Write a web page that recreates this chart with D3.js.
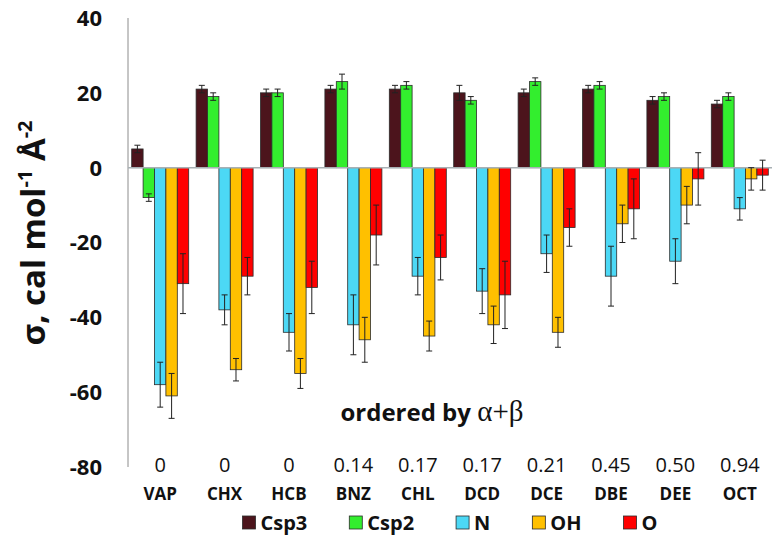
<!DOCTYPE html>
<html>
<head>
<meta charset="utf-8">
<script src="https://cdn.jsdelivr.net/npm/d3@7"></script>
<style>
  body { margin: 0; background: #fff; }
  svg { display: block; font-family: "Open Sans", sans-serif; }
</style>
</head>
<body>
<svg id="chart" width="780" height="545"></svg>
<script>
// solvents, ordered by alpha+beta
var solvents = ["VAP", "CHX", "HCB", "BNZ", "CHL", "DCD", "DCE", "DBE", "DEE", "OCT"];
var alphaBeta = ["0", "0", "0", "0.14", "0.17", "0.17", "0.21", "0.45", "0.50", "0.94"];
var seriesNames = ["Csp3", "Csp2", "N", "OH", "O"];
var seriesColors = ["#4c141c", "#33ee2e", "#4cd8f5", "#ffc000", "#ff0000"];

// sigma values per series (one per solvent)
var csp3 = [5, 21, 20, 21, 21, 20, 20, 21, 18, 17];
var csp2 = [-8, 19, 20, 23, 22, 18, 23, 22, 19, 19];
var nVals = [-58, -38, -44, -42, -29, -33, -23, -29, -25, -11];
var ohVals = [-61, -54, -55, -46, -45, -42, -44, -15, -10, -3];
var oVals = [-31, -29, -32, -18, -24, -34, -16, -11, -3, -2];

// error bar half-widths
var csp3Err = [1, 1, 1, 1, 1, 2, 1, 1, 1, 1];
var csp2Err = [1, 1, 1, 2, 1, 1, 1, 1, 1, 1];
var nErr = [6, 4, 5, 8, 5, 6, 5, 8, 6, 3];
var ohErr = [6, 3, 4, 6, 4, 5, 4, 5, 5, 3];
var oErr = [8, 5, 7, 8, 6, 9, 5, 8, 7, 4];

var yTicks = [40, 20, 0, -20, -40, -60, -80];

var values = [csp3, csp2, nVals, ohVals, oVals];
var errors = [csp3Err, csp2Err, nErr, ohErr, oErr];

var svg = d3.select("#chart");
var plot = {left: 128, right: 772, top: 18, bottom: 467};

var x = d3.scaleBand()
    .domain(solvents)
    .range([plot.left, plot.right])
    .paddingInner(0.115)
    .paddingOuter(0.0575);

var xSub = d3.scaleBand()
    .domain(seriesNames)
    .range([0, x.bandwidth()]);

var y = d3.scaleLinear()
    .domain([-80, 40])
    .range([plot.bottom, plot.top]);

// flatten to one record per bar
var bars = [];
solvents.forEach(function(s, i) {
    seriesNames.forEach(function(name, k) {
        bars.push({solvent: s, series: name, idx: k, value: values[k][i], err: errors[k][i]});
    });
});

// y axis line
svg.append("line")
    .attr("x1", plot.left).attr("x2", plot.left)
    .attr("y1", y(40)).attr("y2", y(-80))
    .attr("stroke", "#8c8c8c")
    .attr("stroke-width", 1);

// y tick labels
svg.append("g")
    .selectAll("text")
    .data(yTicks)
    .enter().append("text")
    .attr("x", 102)
    .attr("y", d => y(d))
    .attr("dy", "0.36em")
    .attr("text-anchor", "end")
    .attr("font-weight", "bold")
    .attr("font-size", 22)
    .attr("fill", "#111")
    .text(d => d);

// bars
svg.append("g")
    .selectAll("rect")
    .data(bars)
    .enter().append("rect")
    .attr("x", d => x(d.solvent) + xSub(d.series))
    .attr("y", d => y(Math.max(0, d.value)))
    .attr("width", xSub.bandwidth())
    .attr("height", d => Math.abs(y(d.value) - y(0)))
    .attr("fill", d => seriesColors[d.idx])
    .attr("stroke", "#2b2b2b")
    .attr("stroke-width", 0.8);

// zero line
svg.append("line")
    .attr("x1", plot.left).attr("x2", plot.right)
    .attr("y1", y(0)).attr("y2", y(0))
    .attr("stroke", "#a8b0b4")
    .attr("stroke-width", 1.5);

// error bars
var eb = svg.append("g")
    .attr("stroke", "#222")
    .attr("stroke-width", 1)
    .selectAll("g")
    .data(bars)
    .enter().append("g")
    .attr("transform", d => "translate(" + (x(d.solvent) + xSub(d.series) + xSub.bandwidth() / 2) + ",0)");

eb.append("line")
    .attr("y1", d => y(d.value + d.err))
    .attr("y2", d => y(d.value - d.err));
eb.append("line")
    .attr("x1", -3).attr("x2", 3)
    .attr("y1", d => y(d.value + d.err))
    .attr("y2", d => y(d.value + d.err));
eb.append("line")
    .attr("x1", -3).attr("x2", 3)
    .attr("y1", d => y(d.value - d.err))
    .attr("y2", d => y(d.value - d.err));

// alpha+beta row
svg.append("g")
    .selectAll("text")
    .data(solvents)
    .enter().append("text")
    .attr("x", d => x(d) + x.bandwidth() / 2)
    .attr("y", 465)
    .attr("dy", "0.36em")
    .attr("text-anchor", "middle")
    .attr("font-size", 20)
    .attr("fill", "#111")
    .text((d, i) => alphaBeta[i]);

// solvent names
svg.append("g")
    .selectAll("text")
    .data(solvents)
    .enter().append("text")
    .attr("x", d => x(d) + x.bandwidth() / 2)
    .attr("y", 494)
    .attr("dy", "0.36em")
    .attr("text-anchor", "middle")
    .attr("font-size", 17)
    .attr("font-weight", "bold")
    .attr("fill", "#111")
    .text(d => d);

// "ordered by" label
var ob = svg.append("text")
    .attr("x", 432)
    .attr("y", 421)
    .attr("text-anchor", "middle")
    .attr("font-weight", "bold")
    .attr("font-size", 24)
    .attr("fill", "#111");
ob.append("tspan").text("ordered by ");
ob.append("tspan")
    .attr("font-family", "'Liberation Serif', serif")
    .attr("font-weight", "normal")
    .attr("font-size", 29)
    .text("α+β");

// y axis title
var yt = svg.append("text")
    .attr("transform", "translate(45,233) rotate(-90)")
    .attr("text-anchor", "middle")
    .attr("font-weight", "bold")
    .attr("font-size", 33)
    .attr("fill", "#111");
yt.append("tspan").text("σ, cal mol");
yt.append("tspan").attr("font-size", 20).attr("dy", -13).text("-1");
yt.append("tspan").attr("dy", 13).text(" Å");
yt.append("tspan").attr("font-size", 20).attr("dy", -13).text("-2");

// legend
var legend = svg.append("g");
var items = legend.selectAll("g")
    .data(seriesNames)
    .enter().append("g");
items.append("rect")
    .attr("width", 13).attr("height", 13)
    .attr("y", -7)
    .attr("fill", (d, i) => seriesColors[i])
    .attr("stroke", "#2b2b2b")
    .attr("stroke-width", 0.8);
items.append("text")
    .attr("x", 18)
    .attr("dy", "0.36em")
    .attr("font-size", 20)
    .attr("font-weight", "bold")
    .attr("fill", "#111")
    .text(d => d);

var pos = 0, gap = 42, offsets = [];
items.each(function() {
    offsets.push(pos);
    pos += this.getBBox().width + gap;
});
var total = pos - gap;
var start = (plot.left + plot.right) / 2 - total / 2;
items.attr("transform", (d, i) => "translate(" + (start + offsets[i]) + ",523)");
</script>
</body>
</html>
